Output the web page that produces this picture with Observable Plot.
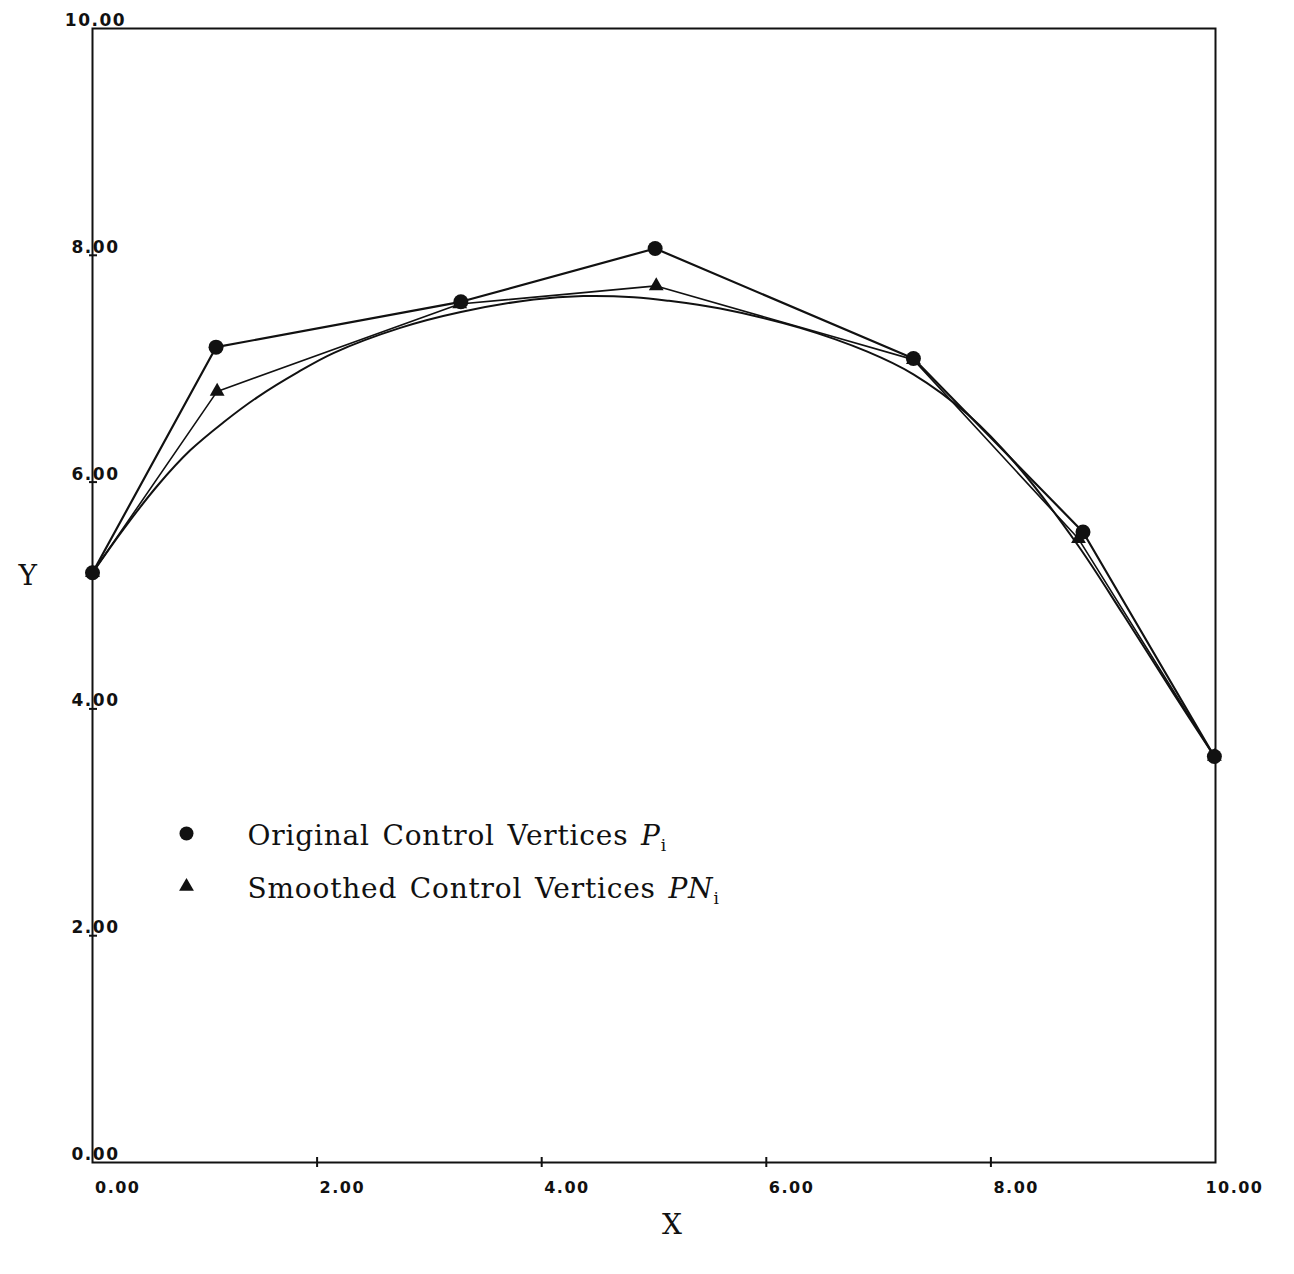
<!DOCTYPE html>
<html><head><meta charset="utf-8">
<script src="https://cdn.jsdelivr.net/npm/d3@7"></script>
<script src="https://cdn.jsdelivr.net/npm/@observablehq/plot@0.6"></script>
<style>
html,body{margin:0;padding:0;background:#fff}
#chart svg{display:block;background:#fff}
</style>
</head><body><div id="chart"></div>
<script>
// Original control vertices P_i
const origX = [0.00, 1.10, 3.28, 5.01, 7.31, 8.82, 9.99];
const origY = [5.20, 7.19, 7.59, 8.06, 7.09, 5.56, 3.58];
// Smoothed control vertices PN_i
const smoothX = [0.00, 1.11, 3.27, 5.02, 7.31, 8.78, 9.99];
const smoothY = [5.20, 6.80, 7.57, 7.73, 7.08, 5.50, 3.58];
// Resulting curve
const curveX = [0.00, 0.28, 0.58, 0.87, 1.17, 1.47, 1.83, 2.15, 2.74, 3.28, 3.93, 4.37, 4.82, 5.12, 5.59, 6.30, 6.90, 7.31, 7.79, 8.24, 8.77, 9.18, 9.63, 9.99];
const curveY = [5.20, 5.59, 5.97, 6.28, 6.53, 6.75, 6.97, 7.14, 7.36, 7.50, 7.61, 7.64, 7.63, 7.60, 7.53, 7.36, 7.15, 6.95, 6.60, 6.14, 5.45, 4.83, 4.13, 3.58];
// Axes
const xTicks = [0, 2, 4, 6, 8, 10];
const yTicks = [0, 2, 4, 6, 8, 10];
const innerTicks = [2, 4, 6, 8];
const xTitle = "X";
const yTitle = "Y";
const legendLabels = ["Original Control Vertices", "Smoothed Control Vertices"];
const legendSymbols = ["P", "PN"];
const legendSub = "i";

const orig = origX.map((x, i) => ({x, y: origY[i]}));
const smooth = smoothX.map((x, i) => ({x, y: smoothY[i]}));
const curve = curveX.map((x, i) => ({x, y: curveY[i]}));

const tickFont = {fontFamily: "DejaVu Sans", fontWeight: "bold", fill: "#111"};
const serif = "DejaVu Serif";

const chart = Plot.plot({
  width: 1294,
  height: 1274,
  marginLeft: 92,
  marginRight: 79,
  marginTop: 28,
  marginBottom: 112,
  x: {domain: [0, 10], axis: null},
  y: {domain: [0, 10], axis: null},
  style: {background: "#fff"},
  marks: [
    Plot.frame({stroke: "#111", strokeWidth: 2}),
    Plot.ruleX(innerTicks, {x: d => d, y1: 0, y2: 0, insetTop: -5, insetBottom: -5, stroke: "#111", strokeWidth: 2}),
    Plot.ruleY(innerTicks, {y: d => d, x1: 0, x2: 0, insetLeft: -3, insetRight: -5, stroke: "#111", strokeWidth: 2}),
    Plot.text(xTicks, {x: d => d, y: 0, text: d => d.toFixed(2), textAnchor: "end", dx: 48, dy: 25, fontSize: 16, ...tickFont}),
    Plot.text(yTicks, {x: 0, y: d => d, text: d => d.toFixed(2), textAnchor: "middle", dx: 3, dy: -8, fontSize: 17, ...tickFont}),
    Plot.line(curve, {x: "x", y: "y", curve: "catmull-rom", stroke: "#111", strokeWidth: 2}),
    Plot.line(smooth, {x: "x", y: "y", stroke: "#111", strokeWidth: 1.6}),
    Plot.line(orig, {x: "x", y: "y", stroke: "#111", strokeWidth: 2.2}),
    Plot.dot(smooth, {x: "x", y: "y", symbol: "triangle", r: 5.5, fill: "#111"}),
    Plot.dot(orig, {x: "x", y: "y", r: 7.5, fill: "#111"}),
    // legend
    Plot.dot([0], {frameAnchor: "top-left", dx: 94, dy: 805, r: 7, fill: "#111"}),
    Plot.dot([0], {frameAnchor: "top-left", dx: 94, dy: 858, r: 5.5, symbol: "triangle", fill: "#111"}),
    Plot.text([legendLabels[0]], {frameAnchor: "top-left", dx: 155, dy: 797, textAnchor: "start", fontFamily: serif, fontSize: 28, fill: "#111"}),
    Plot.text([legendLabels[1]], {frameAnchor: "top-left", dx: 155, dy: 850, textAnchor: "start", fontFamily: serif, fontSize: 28, fill: "#111"}),
    // axis titles
    Plot.text([yTitle], {frameAnchor: "left", dx: -74, dy: -19, fontFamily: serif, fontSize: 28, fill: "#111"}),
    Plot.text([xTitle], {frameAnchor: "bottom", dx: 18, dy: 71, fontFamily: serif, fontSize: 28, fill: "#111"})
  ]
});

document.getElementById("chart").appendChild(chart);

const svg = d3.select(chart);
svg.selectAll("text").each(function() {
  const t = d3.select(this);
  const s = this.textContent;
  const idx = legendLabels.indexOf(s);
  if (idx >= 0) {
    // add italic symbol with subscript to the legend lines
    t.style("letter-spacing", "0.8px").style("word-spacing", "3px");
    t.text(s + " ");
    t.append("tspan").attr("font-style", "italic").text(legendSymbols[idx]);
    t.append("tspan").attr("font-size", 17).attr("dy", 6).text(legendSub);
  } else if (/^\d+\.00$/.test(s)) {
    t.style("letter-spacing", "1.5px");
  }
});
</script>
</body></html>
